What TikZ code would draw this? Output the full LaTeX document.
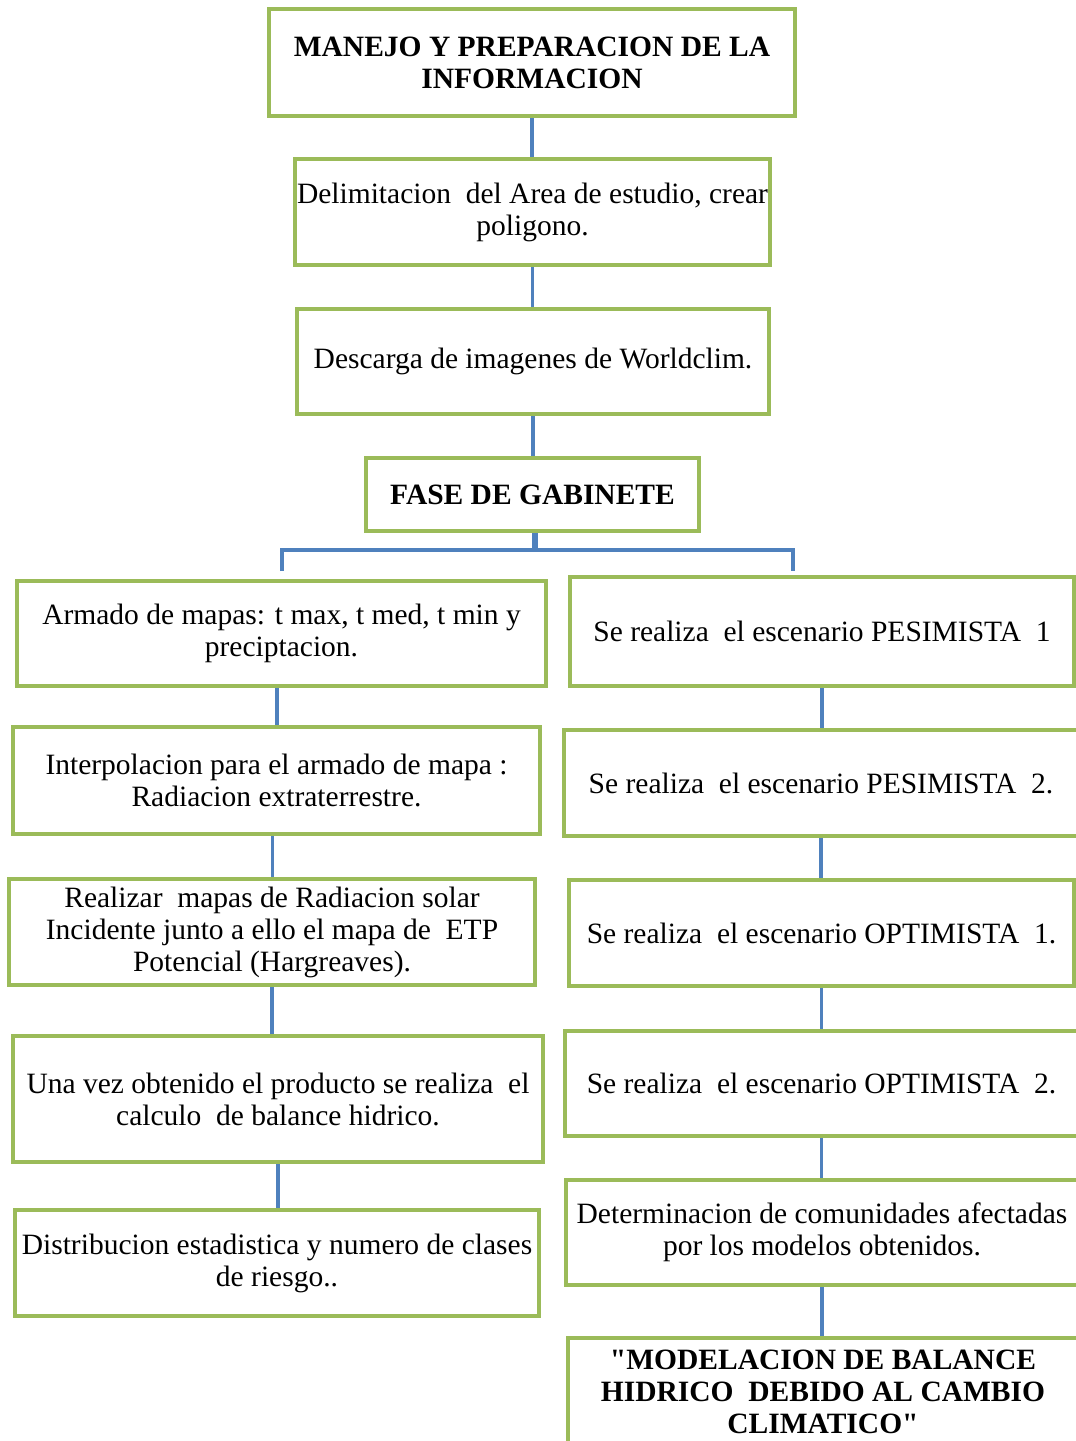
\documentclass[tikz,border=0pt]{standalone}
\usepackage{fontspec}
\setmainfont{Liberation Serif}
\definecolor{boxgreen}{HTML}{9BBB59}
\definecolor{lineblue}{HTML}{4F81BD}
\begin{document}
\begin{tikzpicture}[x=1pt,y=-1pt,
  box/.style={draw=boxgreen,line width=4pt,fill=white,inner sep=0pt,align=center,
    font=\fontsize{29.5}{32}\selectfont},
  titlebox/.style={box,font=\fontsize{29.5}{32}\selectfont\bfseries},
  link/.style={draw=lineblue,line width=3.5pt}]
\useasboundingbox (0,0) rectangle (1076,1441);
\fill[white] (0,0) rectangle (1076,1441);
% top chain
\node[titlebox,minimum width=526pt,minimum height=107pt] (t1) at (532,62.5) {MANEJO Y PREPARACION DE LA\\INFORMACION};
\node[box,minimum width=475pt,minimum height=106pt] (t2) at (532.5,212) {Delimitacion\ \ del Area de estudio, crear\\poligono.};
\node[box,minimum width=472pt,minimum height=105pt] (t3) at (533,361.5) {Descarga de imagenes de Worldclim.};
\node[titlebox,minimum width=333pt,minimum height=73pt] (t4) at (532.5,494.5) {FASE DE GABINETE};
% left column
\node[box,minimum width=529pt,minimum height=105pt] (l1) at (281.5,633.5) {Armado de mapas: t max, t med, t min y\\preciptacion.};
\node[box,minimum width=527pt,minimum height=107pt] (l2) at (276.5,780.5) {Interpolacion para el armado de mapa :\\Radiacion extraterrestre.};
\node[box,minimum width=526pt,minimum height=106pt] (l3) at (272,932) {Realizar\ \ mapas de Radiacion solar\\Incidente junto a ello el mapa de\ \ ETP\\Potencial (Hargreaves).};
\node[box,minimum width=530pt,minimum height=126pt] (l4) at (278,1099) {Una vez obtenido el producto se realiza\ \ el\\calculo\ \ de balance hidrico.};
\node[box,minimum width=524pt,minimum height=106pt] (l5) at (277,1263) {Distribucion estadistica y numero de clases\\de riesgo..};
% right column
\node[box,minimum width=504pt,minimum height=109pt] (r1) at (822,631.5) {Se realiza\ \ el escenario PESIMISTA\ \ 1};
\node[box,minimum width=514pt,minimum height=106pt] (r2) at (821,783) {Se realiza\ \ el escenario PESIMISTA\ \ 2.};
\node[box,minimum width=505pt,minimum height=106pt] (r3) at (821.5,933) {Se realiza\ \ el escenario OPTIMISTA\ \ 1.};
\node[box,minimum width=513pt,minimum height=105pt] (r4) at (821.5,1083.5) {Se realiza\ \ el escenario OPTIMISTA\ \ 2.};
\node[box,minimum width=512pt,minimum height=105pt] (r5) at (822,1232.5) {Determinacion de comunidades afectadas\\por los modelos obtenidos.};
\node[titlebox,minimum width=510pt,minimum height=108pt,text depth=0pt] (r6) at (823,1392) {\textquotedbl MODELACION DE BALANCE\\HIDRICO\ \ DEBIDO AL CAMBIO\\CLIMATICO\textquotedbl};
% connectors
\draw[link] (t1.south) -- (t1.south |- t2.north);
\draw[link] (t2.south) -- (t2.south |- t3.north);
\draw[link] (t3.south) -- (t3.south |- t4.north);
\coordinate (bl) at (282,550);
\coordinate (br) at (793,550);
\coordinate (blend) at (282,571);
\coordinate (brend) at (793,571);
\draw[draw=lineblue,line width=6pt] ([xshift=2.5pt]t4.south) -- ([xshift=2.5pt]t4.south |- bl);
\draw[link] (blend) -- (bl) -- (br) -- (brend);
\draw[link] ([xshift=-4.5pt]l1.south) -- ([xshift=-4.5pt]l1.south |- l2.north);
\draw[link] ([xshift=-4pt]l2.south) -- ([xshift=-4pt]l2.south |- l3.north);
\draw[link] (l3.south) -- (l3.south |- l4.north);
\draw[link] (l4.south) -- (l4.south |- l5.north);
\draw[link] (r1.south) -- (r1.south |- r2.north);
\draw[link] (r2.south) -- (r2.south |- r3.north);
\draw[link] (r3.south) -- (r3.south |- r4.north);
\draw[link] (r4.south) -- (r4.south |- r5.north);
\draw[link] (r5.south) -- (r5.south |- r6.north);
\end{tikzpicture}
\end{document}
